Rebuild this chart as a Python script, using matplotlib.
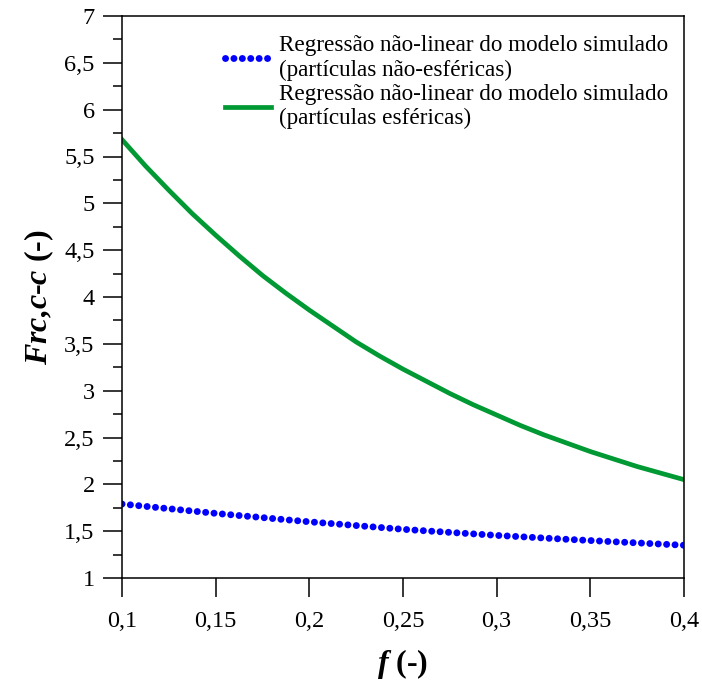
import matplotlib
matplotlib.use("Agg")
import matplotlib.pyplot as plt
from matplotlib.ticker import MultipleLocator, FuncFormatter

plt.rcParams['font.family'] = ['Liberation Serif', 'DejaVu Serif']
plt.rcParams['mathtext.fontset'] = 'custom'
plt.rcParams['mathtext.rm'] = 'Liberation Serif'
plt.rcParams['mathtext.it'] = 'Liberation Serif:italic'
plt.rcParams['mathtext.bf'] = 'Liberation Serif:bold'
plt.rcParams['mathtext.bfit'] = 'Liberation Serif:italic:bold'

# valores
f_vals = [0.1, 0.1125, 0.125, 0.1375, 0.15, 0.1625, 0.175, 0.1875, 0.2, 0.2125,
          0.225, 0.2375, 0.25, 0.2625, 0.275, 0.2875, 0.3, 0.3125, 0.325, 0.3375,
          0.35, 0.3625, 0.375, 0.3875, 0.4]
frc_nao_esf = [1.79, 1.765, 1.74, 1.715, 1.69, 1.667, 1.645, 1.622, 1.60, 1.58,
               1.56, 1.54, 1.52, 1.503, 1.487, 1.471, 1.455, 1.441, 1.427, 1.413,
               1.40, 1.387, 1.375, 1.362, 1.35]
frc_esf = [5.68, 5.40, 5.14, 4.89, 4.66, 4.44, 4.23, 4.04, 3.86, 3.69,
           3.52, 3.37, 3.23, 3.10, 2.97, 2.85, 2.74, 2.63, 2.53, 2.44,
           2.35, 2.27, 2.19, 2.12, 2.05]

lbl_nao_esf = "Regressão não-linear do modelo simulado\n(partículas não-esféricas)"
lbl_esf = "Regressão não-linear do modelo simulado\n(partículas esféricas)"

fig = plt.figure(figsize=(7.02, 6.81), dpi=100)
ax = fig.add_axes([122 / 702, 1 - 578 / 681, 562 / 702, 562 / 681])

ax.plot(f_vals, frc_nao_esf, color='#0000ff', linewidth=5,
        linestyle=(0, (0.01, 1.2)), dash_capstyle='round', label=lbl_nao_esf)
ax.plot(f_vals, frc_esf, color='#009933', linewidth=3.4, label=lbl_esf)

ax.set_xlim(0.1, 0.4)
ax.set_ylim(1, 7)
ax.xaxis.set_major_locator(MultipleLocator(0.05))
ax.yaxis.set_major_locator(MultipleLocator(0.5))
ax.yaxis.set_minor_locator(MultipleLocator(0.25))

fmt = FuncFormatter(lambda v, p: "{:g}".format(round(v, 3)).replace('.', ','))
ax.xaxis.set_major_formatter(fmt)
ax.yaxis.set_major_formatter(fmt)

for s in ax.spines.values():
    s.set_linewidth(1.1)
ax.tick_params(which='major', direction='out', length=13.7, width=1.1, labelsize=17.5, pad=6)
ax.tick_params(axis='x', which='major', pad=10)
ax.tick_params(which='minor', direction='out', length=6.5, width=1.1)

ax.set_xlabel(r'$\mathbfit{f}$ (-)', fontsize=23, fontweight='bold', labelpad=11)
ax.set_ylabel(r'$\mathbfit{Frc{,}c}$-$\mathbfit{c}$ (-)', fontsize=23, fontweight='bold', labelpad=6)

ax.legend(loc='upper left', frameon=False, fontsize=16.7, handlelength=2.0,
          handletextpad=0.35, labelspacing=0.15, borderpad=0, borderaxespad=0,
          bbox_to_anchor=(0.183, 0.966))

fig.savefig('out.png', dpi=100)
